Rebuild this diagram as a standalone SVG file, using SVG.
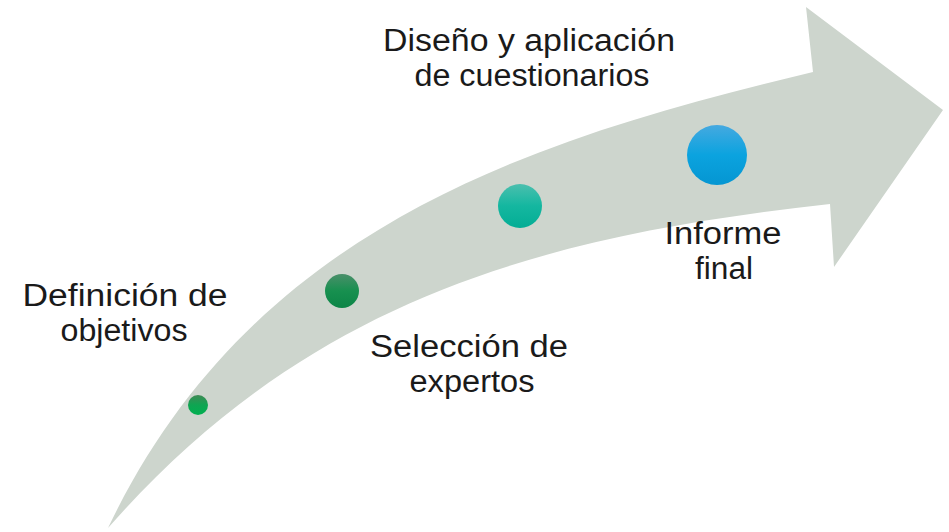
<svg xmlns="http://www.w3.org/2000/svg" width="949" height="532" viewBox="0 0 949 532">
  <style>
    .lbl { font-family: "Liberation Sans", Arial, sans-serif; font-size: 31px; fill: #1a1a1a; text-anchor: middle; }
  </style>
  <defs>
    <linearGradient id="g1" x1="0" y1="0" x2="0" y2="1">
      <stop offset="0" stop-color="#3f8a55"/>
      <stop offset="0.5" stop-color="#0fa552"/>
      <stop offset="1" stop-color="#00b050"/>
    </linearGradient>
    <linearGradient id="g2" x1="0" y1="0" x2="0" y2="1">
      <stop offset="0" stop-color="#4a8f6a"/>
      <stop offset="0.5" stop-color="#17904f"/>
      <stop offset="1" stop-color="#0c8547"/>
    </linearGradient>
    <linearGradient id="g3" x1="0" y1="0" x2="0" y2="1">
      <stop offset="0" stop-color="#4bbfae"/>
      <stop offset="0.5" stop-color="#14b7a0"/>
      <stop offset="1" stop-color="#03ad95"/>
    </linearGradient>
    <linearGradient id="g4" x1="0" y1="0" x2="0" y2="1">
      <stop offset="0" stop-color="#45a9e0"/>
      <stop offset="0.5" stop-color="#0ba3df"/>
      <stop offset="1" stop-color="#0596d2"/>
    </linearGradient>
  </defs>

  <g id="connectors">
    <path id="arrow" d="M108,528 C250,231 522,141 813,72 L806,7 L943,110 L834,267 L830,204 C532,237 306,303 108,528 Z" fill="#cdd5cd"/>
  </g>

  <g id="node-definicion">
    <circle cx="198" cy="405" r="10" fill="url(#g1)"/>
    <text class="lbl" x="125" y="306" textLength="205" lengthAdjust="spacingAndGlyphs">Definición de</text>
    <text class="lbl" x="124" y="341" textLength="127" lengthAdjust="spacingAndGlyphs">objetivos</text>
  </g>

  <g id="node-seleccion">
    <circle cx="342" cy="291" r="17" fill="url(#g2)"/>
    <text class="lbl" x="469" y="357" textLength="198" lengthAdjust="spacingAndGlyphs">Selección de</text>
    <text class="lbl" x="472" y="392" textLength="125" lengthAdjust="spacingAndGlyphs">expertos</text>
  </g>

  <g id="node-diseno">
    <circle cx="520" cy="206" r="22" fill="url(#g3)"/>
    <text class="lbl" x="529" y="51" textLength="292" lengthAdjust="spacingAndGlyphs">Diseño y aplicación</text>
    <text class="lbl" x="532" y="86" textLength="235" lengthAdjust="spacingAndGlyphs">de cuestionarios</text>
  </g>

  <g id="node-informe">
    <circle cx="717" cy="155" r="30" fill="url(#g4)"/>
    <text class="lbl" x="723" y="244" textLength="117" lengthAdjust="spacingAndGlyphs">Informe</text>
    <text class="lbl" x="724" y="279" textLength="58" lengthAdjust="spacingAndGlyphs">final</text>
  </g>
</svg>
